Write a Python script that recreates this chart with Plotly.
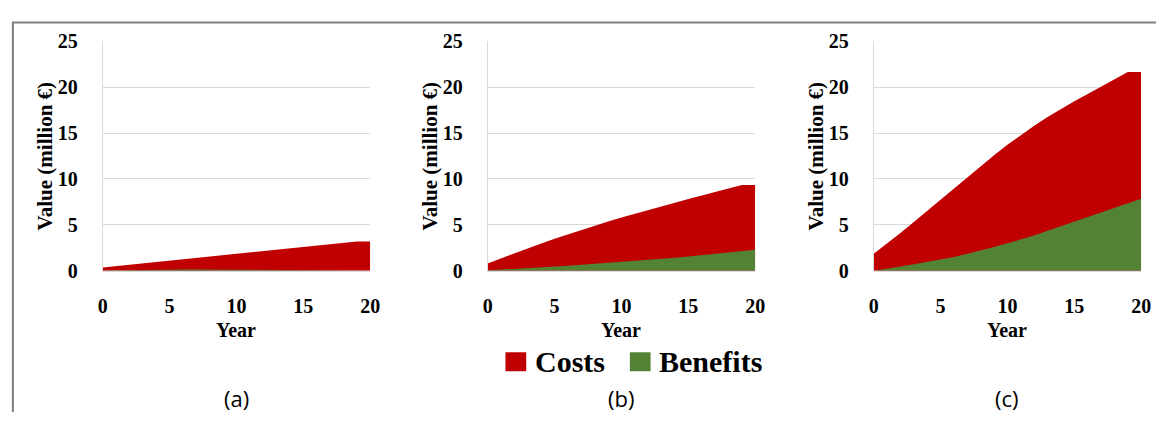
import plotly.graph_objects as go

# Project years and cumulative values (million €) for the three scenarios
years = list(range(0, 21))

costs_a = [0.35, 0.5, 0.65, 0.8, 0.95, 1.1, 1.25, 1.4, 1.55, 1.7, 1.85,
           2.0, 2.15, 2.3, 2.45, 2.6, 2.75, 2.9, 3.05, 3.2, 3.2]
benefits_a = [0.02, 0.05, 0.08, 0.1, 0.12, 0.14, 0.15, 0.15, 0.14, 0.12, 0.1,
              0.08, 0.06, 0.04, 0.03, 0.02, 0.01, 0.01, 0.0, 0.0, 0.0]

costs_b = [0.8, 1.36, 1.92, 2.46, 2.98, 3.48, 3.97, 4.45, 4.91, 5.36, 5.8,
           6.22, 6.63, 7.03, 7.42, 7.81, 8.2, 8.59, 8.98, 9.35, 9.35]
benefits_b = [0.05, 0.12, 0.2, 0.28, 0.36, 0.45, 0.55, 0.65, 0.75, 0.85, 0.98,
              1.08, 1.18, 1.3, 1.42, 1.55, 1.7, 1.85, 2.0, 2.15, 2.3]

costs_c = [1.86, 2.96, 4.11, 5.31, 6.53, 7.77, 9.01, 10.23, 11.43, 12.6, 13.73,
           14.81, 15.81, 16.75, 17.63, 18.47, 19.27, 20.07, 20.87, 21.65, 21.65]
benefits_c = [0.0, 0.2, 0.45, 0.7, 0.95, 1.2, 1.5, 1.85, 2.2, 2.6, 3.0,
              3.4, 3.85, 4.35, 4.85, 5.35, 5.85, 6.3, 6.8, 7.3, 7.86]

panel_labels = ["(a)", "(b)", "(c)"]
series_names = ["Costs", "Benefits"]
y_ticks = [0, 5, 10, 15, 20, 25]
x_ticks = [0, 5, 10, 15, 20]

COST_COLOR = "#C00000"
BENEFIT_COLOR = "#548235"
GRID = "#D9D9D9"
SERIF = "Liberation Serif"

W, H = 1166, 423
panels = [(costs_a, benefits_a), (costs_b, benefits_b), (costs_c, benefits_c)]
x_left_px = [99, 489, 880]
plot_w_px = 271
y_bottom_px, y_top_px = 274, 32

fig = go.Figure()

for i, (costs, benefits) in enumerate(panels):
    ax = "" if i == 0 else str(i + 1)
    fig.add_trace(go.Scatter(
        x=years, y=costs, name=series_names[0], mode="lines",
        line=dict(width=0, color=COST_COLOR), fill="tozeroy",
        fillcolor=COST_COLOR, showlegend=False,
        xaxis="x" + ax, yaxis="y" + ax))
    fig.add_trace(go.Scatter(
        x=years, y=benefits, name=series_names[1], mode="lines",
        line=dict(width=0, color=BENEFIT_COLOR), fill="tozeroy",
        fillcolor=BENEFIT_COLOR, showlegend=False,
        xaxis="x" + ax, yaxis="y" + ax))

tick_font = dict(family=SERIF, size=20, color="#000000", weight="bold")
layout = dict(
    width=W, height=H,
    margin=dict(l=0, r=0, t=0, b=0),
    paper_bgcolor="white", plot_bgcolor="white",
    showlegend=False,
)

y_dom = [(H - y_bottom_px) / H, (H - y_top_px) / H]
annotations = []
shapes = []
for i in range(3):
    ax = "" if i == 0 else str(i + 1)
    x0 = x_left_px[i] / W
    x1 = (x_left_px[i] + plot_w_px) / W
    layout["xaxis" + ax] = dict(
        domain=[x0, x1], range=[0, 20], tickvals=x_ticks,
        showgrid=False, zeroline=False, showline=True, linecolor=GRID,
        linewidth=1, ticks="", ticklabelstandoff=17, tickfont=tick_font,
        anchor="y" + ax, fixedrange=True)
    layout["yaxis" + ax] = dict(
        domain=y_dom, range=[0, 25], tickvals=y_ticks,
        showgrid=True, gridcolor=GRID, gridwidth=1, zeroline=False,
        showline=True, linecolor=GRID, linewidth=1, ticks="",
        ticklabelstandoff=20, tickfont=tick_font,
        anchor="x" + ax, fixedrange=True)
    cx = (x0 + x1) / 2
    # axis titles
    annotations.append(dict(
        text="Year", x=cx, y=(H - 337) / H, xref="paper", yref="paper",
        showarrow=False, xanchor="center", yanchor="middle",
        font=dict(family=SERIF, size=20, color="#000", weight="bold")))
    annotations.append(dict(
        text="Value (million €)", x=(x_left_px[i] - 58) / W,
        y=(H - 153) / H, xref="paper", yref="paper", textangle=-90,
        showarrow=False, xanchor="center", yanchor="middle",
        font=dict(family=SERIF, size=21, color="#000", weight="bold")))
    # panel caption
    annotations.append(dict(
        text=panel_labels[i], x=cx, y=(H - 408) / H, xref="paper",
        yref="paper", showarrow=False, xanchor="center", yanchor="middle",
        font=dict(family="Open Sans", size=22, color="#000")))

# shared key below the middle panel
key = [(series_names[0], COST_COLOR, 507), (series_names[1], BENEFIT_COLOR, 633)]
for name, color, px in key:
    shapes.append(dict(
        type="rect", xref="paper", yref="paper",
        x0=px / W, x1=(px + 21) / W, y0=(H - 380) / H, y1=(H - 360) / H,
        fillcolor=color, line=dict(width=0)))
    annotations.append(dict(
        text=name, x=(px + 28) / W, y=(H - 370) / H, xref="paper",
        yref="paper", showarrow=False, xanchor="left", yanchor="middle",
        font=dict(family=SERIF, size=30, color="#000", weight="bold")))

# frame along the top and left edges
shapes.append(dict(
    type="path", xref="paper", yref="paper",
    path=f"M {8 / W},0 L {8 / W},{(H - 12) / H} L 1,{(H - 12) / H}",
    line=dict(color="#7F7F7F", width=2)))

layout["annotations"] = annotations
layout["shapes"] = shapes
fig.update_layout(**layout)

fig.write_html("out.html", config={"displayModeBar": False})
